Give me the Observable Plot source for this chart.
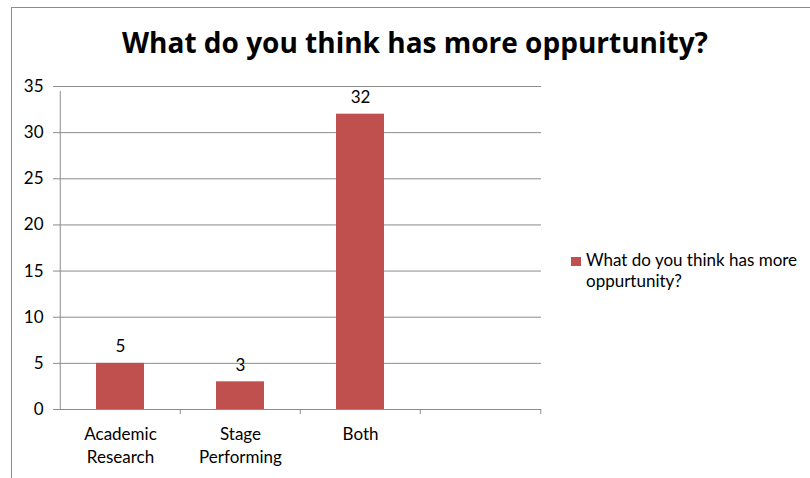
<!DOCTYPE html>
<html>
<head>
<meta charset="utf-8">
<script src="https://cdn.jsdelivr.net/npm/d3@7"></script>
<script src="https://cdn.jsdelivr.net/npm/@observablehq/plot@0.6"></script>
<style>
  html, body { margin: 0; padding: 0; background: #fff; }
  #wrap { position: relative; width: 810px; height: 478px; overflow: hidden; font-family: Lato, "Open Sans", sans-serif; }
  #border { position: absolute; left: 11px; top: 7px; width: 820px; height: 500px; border-top: 1px solid #8c8c8c; border-left: 1px solid #8c8c8c; box-sizing: border-box; }
  #title { position: absolute; left: 0; width: 830px; top: 25px; text-align: center; font-family: "Open Sans", sans-serif; font-weight: bold; font-size: 28px; line-height: 34px; color: #000; white-space: nowrap; }
  #legend { position: absolute; left: 571px; top: 249px; font-size: 17px; line-height: 21px; color: #000; }
  #legend .sw { position: absolute; left: 0; top: 8px; width: 10px; height: 9px; background: #C0504D; }
  #legend .lt { position: absolute; left: 15px; top: 0; width: 235px; }
  #chart { position: absolute; left: 0; top: 0; }
</style>
</head>
<body>
<div id="wrap">
  <div id="chart"></div>
  <div id="border"></div>
  <div id="title"></div>
  <div id="legend"><div class="sw"></div><div class="lt"></div></div>
</div>
<script>
const titleText = "What do you think has more oppurtunity?";
const seriesName = "What do you think has more oppurtunity?";
const categories = ["Academic Research", "Stage Performing", "Both", ""];
const categoryLabels = ["Academic\nResearch", "Stage\nPerforming", "Both", ""];
const values = [5, 3, 32];
const yTicks = [0, 5, 10, 15, 20, 25, 30, 35];
const barColor = "#C0504D";

const data = values.map((v, i) => ({category: categories[i], value: v}));
const labelOf = new Map(categories.map((c, i) => [c, categoryLabels[i]]));

document.getElementById("title").textContent = titleText;
document.querySelector("#legend .lt").textContent = seriesName;

const half = 60.25;
const plot = Plot.plot({
  width: 810,
  height: 478,
  marginLeft: 59,
  marginRight: 269,
  marginTop: 86,
  marginBottom: 69,
  style: {fontFamily: "Lato, 'Open Sans', sans-serif", fontSize: "17px", color: "#000", background: "transparent"},
  x: {domain: categories, paddingInner: 0.6, paddingOuter: 0.3, axis: null, label: null},
  y: {domain: [0, 35], axis: null, label: null},
  marks: [
    Plot.ruleY(yTicks, {stroke: "#8c8c8c", strokeWidth: 1, insetLeft: -6}),
    Plot.axisY({ticks: yTicks, tickSize: 0, tickPadding: 16, fontSize: 17, fill: "#000", label: null}),
    Plot.ruleX([categories[0]], {dx: -half, y1: 0, y2: 35, stroke: "#8c8c8c", insetBottom: -5}),
    Plot.ruleX(categories.slice(1), {dx: -half, y1: 0, y2: 0, stroke: "#8c8c8c", insetBottom: -5}),
    Plot.ruleX([categories[categories.length - 1]], {dx: half, y1: 0, y2: 0, stroke: "#8c8c8c", insetBottom: -5}),
    Plot.barY(data, {x: "category", y: "value", fill: barColor}),
    Plot.text(data, {x: "category", y: "value", text: d => String(d.value), lineAnchor: "bottom", dy: -11, fontSize: 17, fill: "#000"}),
    Plot.axisX({tickSize: 0, tickPadding: 15, tickFormat: d => labelOf.get(d), lineHeight: 1.32, fontSize: 17, fill: "#000", label: null})
  ]
});
document.getElementById("chart").appendChild(plot);
</script>
</body>
</html>
